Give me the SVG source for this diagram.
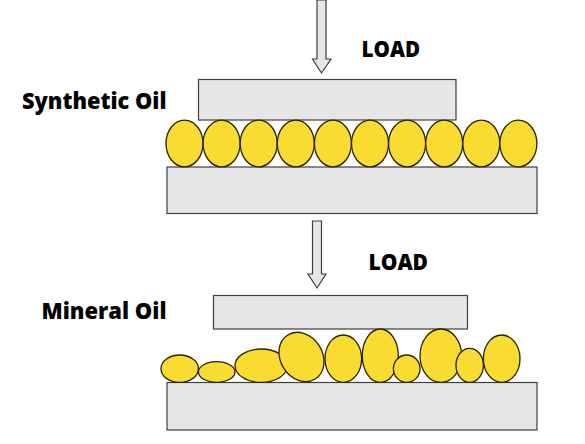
<svg xmlns="http://www.w3.org/2000/svg" width="585" height="444" viewBox="0 0 585 444">
<style>
.plate{fill:#e6e6e6;stroke:#3f3f3f;stroke-width:1.2}
.oil{fill:#f8dc32;stroke:#2b2200;stroke-width:1.3}
.arrow{fill:#e6e6e6;stroke:#3f3f3f;stroke-width:1.2}
.lbl{font-family:"Open Sans","Liberation Sans",sans-serif;font-weight:800;font-size:22.5px;fill:#000}
</style>
<rect width="585" height="444" fill="#fff"/>
<g id="connectors">
<path class="arrow" d="M317,0 L326,0 L326,59 L331,59 L321.5,73 L312.5,59 L317,59 Z"/>
<path class="arrow" d="M312.5,221 L321.5,221 L321.5,274 L326,274 L317,288 L308,274 L312.5,274 Z"/>
</g>
<g id="synthetic">
<text class="lbl" x="22" y="108.5" textLength="144.5" lengthAdjust="spacingAndGlyphs">Synthetic Oil</text>
<text class="lbl" x="361.5" y="57.3" textLength="58.5" lengthAdjust="spacingAndGlyphs">LOAD</text>
<rect id="top-plate-1" class="plate" x="198.5" y="79.5" width="257.5" height="40.5"/>
<rect id="bottom-plate-1" class="plate" x="167" y="167" width="370" height="46.5"/>
<g id="synthetic-oil">
<ellipse class="oil" cx="184.5" cy="143.5" rx="18.5" ry="23.3"/>
<ellipse class="oil" cx="221.6" cy="143.5" rx="18.5" ry="23.3"/>
<ellipse class="oil" cx="258.7" cy="143.5" rx="18.5" ry="23.3"/>
<ellipse class="oil" cx="295.8" cy="143.5" rx="18.5" ry="23.3"/>
<ellipse class="oil" cx="332.9" cy="143.5" rx="18.5" ry="23.3"/>
<ellipse class="oil" cx="370" cy="143.5" rx="18.5" ry="23.3"/>
<ellipse class="oil" cx="407.1" cy="143.5" rx="18.5" ry="23.3"/>
<ellipse class="oil" cx="444.2" cy="143.5" rx="18.5" ry="23.3"/>
<ellipse class="oil" cx="481.3" cy="143.5" rx="18.5" ry="23.3"/>
<ellipse class="oil" cx="518.4" cy="143.5" rx="18.5" ry="23.3"/>
</g>
</g>
<g id="mineral">
<text class="lbl" x="41.5" y="318.5" textLength="125" lengthAdjust="spacingAndGlyphs">Mineral Oil</text>
<text class="lbl" x="368.5" y="269.5" textLength="59.5" lengthAdjust="spacingAndGlyphs">LOAD</text>
<rect id="top-plate-2" class="plate" x="213.5" y="295.5" width="254" height="33.5"/>
<rect id="bottom-plate-2" class="plate" x="167" y="382.5" width="370" height="47.5"/>
<g id="mineral-oil">
<ellipse class="oil" cx="179.7" cy="368.7" rx="18.7" ry="13.7"/>
<ellipse class="oil" cx="216.7" cy="372" rx="18.3" ry="10.3"/>
<ellipse class="oil" cx="261.2" cy="365.7" rx="26.2" ry="16.7"/>
<ellipse class="oil" cx="301.5" cy="357" rx="21" ry="26" transform="rotate(-32 301.5 357)"/>
<ellipse class="oil" cx="343.3" cy="358.7" rx="18.3" ry="23.7"/>
<ellipse class="oil" cx="380.3" cy="355.7" rx="18" ry="26.7"/>
<ellipse class="oil" cx="406.7" cy="368.7" rx="13.3" ry="13.7"/>
<ellipse class="oil" cx="440.8" cy="355.7" rx="20.8" ry="26.7"/>
<ellipse class="oil" cx="469.7" cy="365.3" rx="13.7" ry="17"/>
<ellipse class="oil" cx="501.7" cy="358.7" rx="18.3" ry="23.7"/>
</g>
</g>
</svg>
